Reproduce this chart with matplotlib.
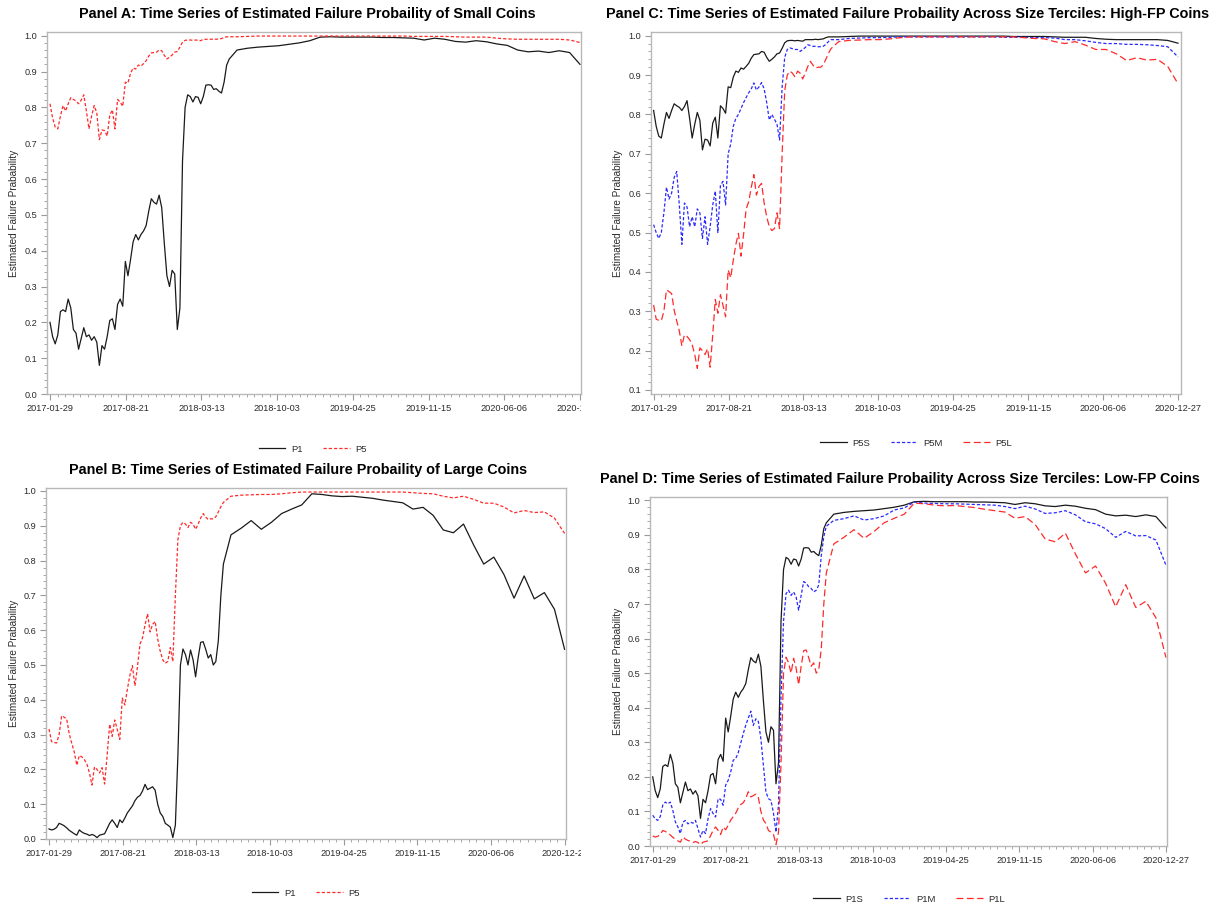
import numpy as np
import pandas as pd
import matplotlib
matplotlib.use("Agg")
import matplotlib.pyplot as plt
import matplotlib.dates as mdates
from matplotlib.transforms import Bbox

plt.rcParams["font.family"] = ["Liberation Sans", "DejaVu Sans"]

# weekly estimates through May 2018, every four weeks after that
early_dates = pd.date_range("2017-01-29", "2018-05-27", freq="7D")
late_dates = pd.date_range("2018-06-17", "2020-12-27", freq="28D")
dates = early_dates.append(late_dates)

# P1 portfolios (low failure probability) by size tercile
p1s = [0.20, 0.16, 0.14, 0.165, 0.23, 0.235, 0.23, 0.265, 0.24, 0.18,
       0.17, 0.125, 0.155, 0.185, 0.16, 0.165, 0.15, 0.16, 0.145, 0.08,
       0.135, 0.125, 0.16, 0.205, 0.21, 0.18, 0.25, 0.265, 0.245, 0.37,
       0.33, 0.375, 0.425, 0.445, 0.43, 0.445, 0.455, 0.47, 0.51, 0.545,
       0.535, 0.53, 0.555, 0.52, 0.42, 0.33, 0.30, 0.345, 0.335, 0.18,
       0.24, 0.65, 0.80, 0.835, 0.83, 0.815, 0.83, 0.828, 0.81, 0.83,
       0.862, 0.863, 0.862, 0.85, 0.852, 0.845, 0.84, 0.87, 0.918, 0.935,
       0.96, 0.965, 0.968, 0.97, 0.972, 0.976, 0.98, 0.986, 0.996, 0.997,
       0.996, 0.996, 0.996, 0.996, 0.995, 0.995, 0.994, 0.993, 0.988, 0.993,
       0.99, 0.984, 0.982, 0.986, 0.983, 0.977, 0.973, 0.96, 0.955, 0.957,
       0.953, 0.958, 0.953, 0.92]
p1m = [0.089, 0.079, 0.074, 0.085, 0.118, 0.127, 0.122, 0.127, 0.103, 0.07,
       0.055, 0.036, 0.069, 0.074, 0.064, 0.069, 0.066, 0.074, 0.05, 0.026,
       0.045, 0.036, 0.079, 0.108, 0.094, 0.084, 0.137, 0.135, 0.118, 0.176,
       0.19, 0.214, 0.248, 0.253, 0.27, 0.298, 0.325, 0.35, 0.37, 0.39,
       0.349, 0.368, 0.36, 0.31, 0.233, 0.156, 0.137, 0.132, 0.095, 0.04,
       0.12, 0.43, 0.65, 0.73, 0.74, 0.725, 0.735, 0.72, 0.682, 0.725,
       0.765, 0.76, 0.75, 0.745, 0.735, 0.74, 0.755, 0.84, 0.895, 0.925,
       0.942, 0.947, 0.955, 0.943, 0.947, 0.955, 0.972, 0.978, 0.995, 0.992,
       0.991, 0.99, 0.99, 0.989, 0.988, 0.987, 0.986, 0.982, 0.976, 0.983,
       0.975, 0.962, 0.964, 0.97, 0.958, 0.938, 0.932, 0.918, 0.893, 0.91,
       0.897, 0.898, 0.885, 0.812]
p1l = [0.029, 0.026, 0.028, 0.033, 0.045, 0.042, 0.038, 0.032, 0.025, 0.02,
       0.015, 0.011, 0.026, 0.02, 0.016, 0.014, 0.01, 0.013, 0.01, 0.004,
       0.011, 0.013, 0.015, 0.03, 0.045, 0.055, 0.045, 0.033, 0.055, 0.047,
       0.06, 0.075, 0.085, 0.095, 0.11, 0.12, 0.125, 0.138, 0.157, 0.142,
       0.146, 0.15, 0.14, 0.10, 0.075, 0.065, 0.045, 0.04, 0.034, 0.004,
       0.04, 0.24, 0.50, 0.546, 0.53, 0.50, 0.543, 0.515, 0.466, 0.52,
       0.565, 0.567, 0.545, 0.52, 0.53, 0.50, 0.51, 0.57, 0.70, 0.79,
       0.874, 0.893, 0.915, 0.89, 0.91, 0.935, 0.948, 0.96, 0.992, 0.99,
       0.986, 0.984, 0.985, 0.982, 0.979, 0.974, 0.97, 0.966, 0.948, 0.953,
       0.93, 0.888, 0.88, 0.905, 0.845, 0.79, 0.81, 0.76, 0.692, 0.756,
       0.69, 0.708, 0.66, 0.545]

# P5 portfolios (high failure probability) by size tercile
p5s = [0.81, 0.77, 0.745, 0.74, 0.775, 0.805, 0.79, 0.81, 0.827, 0.822,
       0.818, 0.81, 0.82, 0.835, 0.79, 0.74, 0.775, 0.805, 0.785, 0.71,
       0.737, 0.735, 0.72, 0.778, 0.793, 0.74, 0.822, 0.815, 0.803, 0.87,
       0.868, 0.895, 0.91, 0.907, 0.918, 0.915, 0.922, 0.93, 0.943, 0.952,
       0.953, 0.954, 0.96, 0.958, 0.945, 0.935, 0.94, 0.946, 0.954, 0.956,
       0.968, 0.982, 0.987, 0.988, 0.988, 0.987, 0.988, 0.987, 0.986, 0.99,
       0.99, 0.99, 0.99, 0.991, 0.99, 0.991, 0.992, 0.995, 0.997, 0.997,
       0.997, 0.998, 0.999, 0.999, 0.999, 0.999, 0.999, 0.999, 0.999, 0.999,
       0.999, 0.999, 0.999, 0.999, 0.999, 0.999, 0.999, 0.998, 0.998, 0.998,
       0.998, 0.997, 0.996, 0.996, 0.996, 0.993, 0.991, 0.99, 0.99, 0.99,
       0.99, 0.99, 0.988, 0.981]
p5m = [0.52, 0.50, 0.485, 0.50, 0.55, 0.615, 0.585, 0.60, 0.64, 0.655,
       0.57, 0.47, 0.575, 0.565, 0.515, 0.54, 0.515, 0.56, 0.55, 0.485,
       0.54, 0.47, 0.515, 0.57, 0.605, 0.50, 0.62, 0.63, 0.57, 0.70,
       0.725, 0.77, 0.79, 0.80, 0.815, 0.83, 0.843, 0.855, 0.865, 0.88,
       0.862, 0.87, 0.881, 0.865, 0.83, 0.786, 0.80, 0.788, 0.775, 0.735,
       0.87, 0.945, 0.965, 0.969, 0.967, 0.965, 0.965, 0.96, 0.965, 0.97,
       0.977, 0.975, 0.973, 0.973, 0.972, 0.972, 0.973, 0.978, 0.985, 0.99,
       0.99, 0.993, 0.994, 0.995, 0.995, 0.996, 0.997, 0.997, 0.997, 0.997,
       0.997, 0.997, 0.997, 0.997, 0.997, 0.997, 0.996, 0.996, 0.996, 0.995,
       0.995, 0.994, 0.99, 0.99, 0.987, 0.983, 0.98, 0.98, 0.978, 0.978,
       0.977, 0.975, 0.972, 0.946]
p5l = [0.316, 0.28, 0.277, 0.276, 0.30, 0.354, 0.35, 0.345, 0.303, 0.275,
       0.25, 0.212, 0.24, 0.236, 0.228, 0.215, 0.19, 0.155, 0.207, 0.20,
       0.19, 0.205, 0.158, 0.24, 0.33, 0.295, 0.342, 0.315, 0.286, 0.405,
       0.385, 0.43, 0.47, 0.498, 0.44, 0.495, 0.56, 0.578, 0.615, 0.647,
       0.595, 0.617, 0.625, 0.575, 0.54, 0.515, 0.505, 0.51, 0.55, 0.51,
       0.70, 0.86, 0.90, 0.91, 0.905, 0.895, 0.91, 0.905, 0.89, 0.905,
       0.922, 0.935, 0.925, 0.918, 0.92, 0.92, 0.926, 0.94, 0.955, 0.967,
       0.985, 0.988, 0.989, 0.99, 0.99, 0.992, 0.995, 0.997, 0.997, 0.997,
       0.997, 0.997, 0.997, 0.997, 0.997, 0.997, 0.997, 0.997, 0.995, 0.993,
       0.992, 0.985, 0.98, 0.985, 0.976, 0.965, 0.965, 0.954, 0.937, 0.944,
       0.938, 0.94, 0.922, 0.878]

tick_dates = ["2017-01-29", "2017-08-21", "2018-03-13", "2018-10-03",
              "2019-04-25", "2019-11-15", "2020-06-06", "2020-12-27"]

W, H = 1212, 907
BLACK = "#1a1a1a"
RED = "#ff2a2a"
BLUE = "#2a2aff"
SHORT = (0, (2.6, 1.6))
LONG = (0, (5.5, 2.8))
FRAME = "#b8b8b8"
TEXT = "#2b2b2b"

fig = plt.figure(figsize=(W / 100, H / 100), dpi=100)
xnum = mdates.date2num(dates.values)
tnum = mdates.date2num(pd.to_datetime(tick_dates).values)


def add_panel(frame, pads, ylo, ytop, first_tick, series, title, title_xy,
              legend_xy, ylabel_x, clip_right=None):
    left, top, right, bottom = frame
    ax = fig.add_axes([left / W, 1 - bottom / H, (right - left) / W, (bottom - top) / H])
    for name, vals, color, ls in series:
        ax.plot(xnum, vals, color=color, lw=0.9, linestyle=ls, label=name)

    ax.set_xlim(tnum[0] - pads[0], tnum[-1] + pads[1])
    ax.set_ylim(ylo, ytop)
    ax.set_xticks(tnum, tick_dates)
    ax.set_xticks(tnum[0] + np.arange(71) * 20.4, minor=True)
    yt = np.round(np.arange(first_tick, 1.0001, 0.1), 1)
    ax.set_yticks(yt, [f"{v:.1f}" for v in yt])
    ax.set_yticks(np.arange(first_tick, 1.0001, 0.02), minor=True)

    for s in ax.spines.values():
        s.set_color(FRAME)
        s.set_linewidth(1.0)
    ax.tick_params(which="major", length=4, width=0.8, color="#9a9a9a",
                   labelsize=6.6, labelcolor=TEXT, pad=3)
    ax.tick_params(which="minor", length=2.5, width=0.6, color="#9a9a9a")

    # label anchor is the baseline side of the rotated text
    ax.set_ylabel("Estimated Failure Prabability", fontsize=7.2, color=TEXT)
    ax.yaxis.set_label_coords((ylabel_x - left) / (right - left), 0.5)

    if clip_right is not None:
        box = Bbox.from_extents(0, 0, clip_right, H)
        for lab in ax.get_xticklabels():
            lab.set_clip_box(box)
            lab.set_clip_on(True)

    fig.text(title_xy[0] / W, 1 - title_xy[1] / H, title, ha="center", va="center",
             fontsize=10.4, fontweight="bold", color="black")
    fig.legend(*ax.get_legend_handles_labels(), loc="center",
               bbox_to_anchor=(legend_xy[0] / W, 1 - legend_xy[1] / H),
               ncol=len(series), frameon=False, fontsize=6.8, labelcolor=TEXT,
               handlelength=2.8, handletextpad=0.6, columnspacing=2.2)
    return ax


add_panel((47, 32, 581, 394), (8.1, 2.7), 0.0, 1.0103, 0.0,
          [("P1", p1s, BLACK, "-"), ("P5", p5s, RED, SHORT)],
          "Panel A: Time Series of Estimated Failure Probaility of Small Coins",
          (307, 14), (313, 449), 19, clip_right=581)

add_panel((46, 488, 566, 839), (8.3, 3.9), 0.0, 1.0086, 0.0,
          [("P1", p1l, BLACK, "-"), ("P5", p5l, RED, SHORT)],
          "Panel B: Time Series of Estimated Failure Probaility of Large Coins",
          (298, 470), (306, 893), 19, clip_right=581)

add_panel((651, 32, 1181, 394), (7.1, 8.2), 0.0898, 1.0094, 0.1,
          [("P5S", p5s, BLACK, "-"), ("P5M", p5m, BLUE, SHORT), ("P5L", p5l, RED, LONG)],
          "Panel C: Time Series of Estimated Failure Probaility Across Size Terciles: High-FP Coins",
          (908, 14), (916, 443), 623)

add_panel((650, 497, 1167, 846), (7.5, 2.8), 0.0, 1.0096, 0.0,
          [("P1S", p1s, BLACK, "-"), ("P1M", p1m, BLUE, SHORT), ("P1L", p1l, RED, LONG)],
          "Panel D: Time Series of Estimated Failure Probaility Across Size Terciles: Low-FP Coins",
          (900, 479), (909, 899), 623)

fig.savefig("out.png", dpi=100)
